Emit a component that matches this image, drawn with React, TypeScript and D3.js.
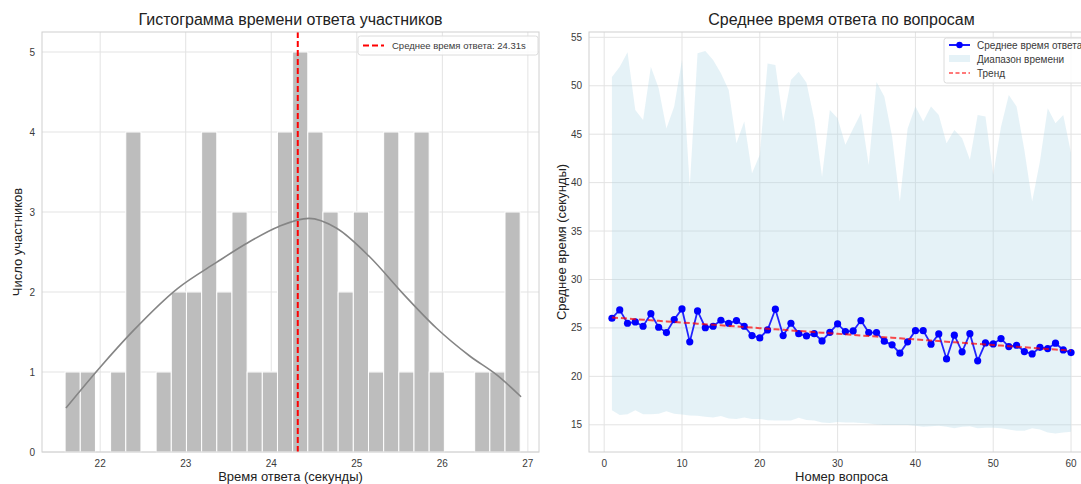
import React from "react";
import * as d3 from "d3";

// ---------- Data: histogram (left) ----------
const histCounts = [1, 1, 0, 1, 4, 0, 1, 2, 2, 4, 2, 3, 1, 1, 4, 5, 4, 3, 2, 3, 1, 4, 1, 4, 1, 0, 0, 1, 1, 3];
const histRange = [21.59, 26.91];
const meanTime = 24.31;
const kdeX = [21.6, 22.0, 22.39, 22.9, 23.36, 23.7, 24.09, 24.44, 24.76, 25.15, 25.54, 25.93, 26.32, 26.64, 26.92];
const kdeY = [0.55, 1.06, 1.52, 2.04, 2.37, 2.6, 2.82, 2.92, 2.8, 2.44, 1.98, 1.55, 1.2, 0.96, 0.69];
const histXTicks = [22, 23, 24, 25, 26, 27];
const histYTicks = [0, 1, 2, 3, 4, 5];

// ---------- Data: per question (right) ----------
const questionMeans = [
  26.0, 26.86, 25.48, 25.62, 25.17, 26.47, 25.07, 24.52, 25.86, 26.96,
  23.56, 26.75, 25.03, 25.17, 25.79, 25.48, 25.76, 25.17, 24.21, 23.97,
  24.79, 26.93, 24.21, 25.48, 24.41, 24.17, 24.41, 23.66, 24.55, 25.41,
  24.62, 24.69, 25.76, 24.52, 24.52, 23.63, 23.25, 22.39, 23.56, 24.72,
  24.72, 23.32, 24.38, 21.8, 24.25, 22.53, 24.41, 21.6, 23.45, 23.35,
  23.9, 23.07, 23.21, 22.56, 22.32, 23.0, 22.87, 23.42, 22.73, 22.45,
];
const questionMax = [
  50.9, 51.97, 53.45, 47.5, 46.47, 51.97, 49.74, 45.6, 47.85, 52.66,
  39.6, 53.35, 53.6, 52.66, 51.3, 49.57, 44.07, 46.3, 40.98, 42.87,
  52.3, 52.14, 46.3, 50.6, 51.45, 50.3, 46.5, 40.6, 47.5, 46.65,
  43.9, 45.6, 47.16, 41.83, 50.4, 48.88, 44.76, 38.05, 45.6, 47.85,
  46.3, 47.85, 46.99, 44.07, 45.44, 44.59, 42.35, 46.99, 46.82, 40.8,
  45.78, 49.05, 47.85, 43.38, 38.05, 42.17, 47.68, 46.13, 46.99, 43.04,
];
const questionMin = [
  16.5, 16.0, 16.1, 16.5, 16.1, 16.1, 16.15, 16.4, 16.15, 16.07,
  15.97, 15.93, 15.83, 15.76, 15.9, 15.66, 15.6, 15.76, 15.6, 15.6,
  15.48, 15.45, 15.45, 15.45, 15.72, 15.5, 15.45, 15.24, 15.18, 15.3,
  15.24, 15.24, 15.18, 15.14, 15.04, 14.97, 14.97, 14.97, 14.97, 14.9,
  14.8, 14.85, 14.9, 14.8, 14.63, 14.8, 14.85, 14.63, 14.7, 14.7,
  14.63, 14.52, 14.38, 14.38, 14.63, 14.52, 14.2, 14.1, 14.2, 14.27,
];
const lineXTicks = [0, 10, 20, 30, 40, 50, 60];
const lineYTicks = [15, 20, 25, 30, 35, 40, 45, 50, 55];

const FONT = "'Liberation Sans', Arial, 'DejaVu Sans', sans-serif";
const GRID = "#e3e3e3";
const SPINE = "#d0d0d0";
const TEXT = "#3a3a3a";

export default function App() {
  const W = 1081;
  const H = 484;

  // Left panel geometry
  const L = { x0: 42, x1: 539, y0: 32, y1: 452 };
  const hx = d3.scaleLinear().domain([21.32, 27.13]).range([L.x0, L.x1]);
  const hy = d3.scaleLinear().domain([0, 5.25]).range([L.y1, L.y0]);
  const binW = (histRange[1] - histRange[0]) / histCounts.length;
  const bins = histCounts.map((c, i) => ({
    a: histRange[0] + i * binW,
    b: histRange[0] + (i + 1) * binW,
    c,
  }));
  const kdePath = d3
    .line<number>()
    .x((_, i) => hx(kdeX[i]))
    .y((d) => hy(d))
    .curve(d3.curveMonotoneX)(kdeY);

  // Right panel geometry
  const R = { x0: 589, x1: 1094, y0: 32, y1: 452 };
  const qs = questionMeans.map((_, i) => i + 1);
  const lx = d3.scaleLinear().domain([-1.95, 62.95]).range([R.x0, R.x1]);
  const ly = d3.scaleLinear().domain([12.19, 55.55]).range([R.y1, R.y0]);
  const areaPath = d3
    .area<number>()
    .x((q) => lx(q))
    .y0((q) => ly(questionMin[q - 1]))
    .y1((q) => ly(questionMax[q - 1]))(qs);
  const meanPath = d3
    .line<number>()
    .x((q) => lx(q))
    .y((q) => ly(questionMeans[q - 1]))(qs);
  // linear regression trend
  const mx = d3.mean(qs) as number;
  const my = d3.mean(questionMeans) as number;
  const slope =
    d3.sum(qs, (q) => (q - mx) * (questionMeans[q - 1] - my)) /
    d3.sum(qs, (q) => (q - mx) * (q - mx));
  const icpt = my - slope * mx;
  const trendPath = d3
    .line<number>()
    .x((q) => lx(q))
    .y((q) => ly(icpt + slope * q))(qs);

  return (
    <svg
      width={W}
      height={H}
      style={{ position: "absolute", left: 0, top: 0, background: "#fff" }}
      fontFamily={FONT}
    >
      <defs>
        <clipPath id="clipR">
          <rect x={R.x0} y={R.y0} width={R.x1 - R.x0} height={R.y1 - R.y0} />
        </clipPath>
      </defs>

      {/* ---------------- LEFT PANEL ---------------- */}
      <rect x={L.x0} y={L.y0} width={L.x1 - L.x0} height={L.y1 - L.y0} fill="#fff" />
      {histXTicks.map((t) => (
        <line key={"hgx" + t} x1={hx(t)} x2={hx(t)} y1={L.y0} y2={L.y1} stroke={GRID} strokeWidth={1} />
      ))}
      {histYTicks.map((t) => (
        <line key={"hgy" + t} x1={L.x0} x2={L.x1} y1={hy(t)} y2={hy(t)} stroke={GRID} strokeWidth={1} />
      ))}
      {bins.map((b, i) =>
        b.c > 0 ? (
          <rect
            key={"bar" + i}
            x={hx(b.a)}
            y={hy(b.c)}
            width={hx(b.b) - hx(b.a)}
            height={hy(0) - hy(b.c)}
            fill="#bdbdbd"
            stroke="#fff"
            strokeWidth={1}
          />
        ) : null
      )}
      <path d={kdePath || ""} fill="none" stroke="#858585" strokeWidth={1.6} />
      <line
        x1={hx(meanTime)}
        x2={hx(meanTime)}
        y1={L.y0}
        y2={L.y1}
        stroke="#ff0000"
        strokeWidth={2}
        strokeDasharray="6,3"
      />
      <rect x={L.x0} y={L.y0} width={L.x1 - L.x0} height={L.y1 - L.y0} fill="none" stroke={SPINE} strokeWidth={1} />
      {histXTicks.map((t) => (
        <text key={"hxt" + t} x={hx(t)} y={L.y1 + 15} textAnchor="middle" fontSize={10} fill={TEXT}>
          {t}
        </text>
      ))}
      {histYTicks.map((t) => (
        <text key={"hyt" + t} x={L.x0 - 7} y={hy(t) + 3.5} textAnchor="end" fontSize={10} fill={TEXT}>
          {t}
        </text>
      ))}
      <text x={(L.x0 + L.x1) / 2} y={25} textAnchor="middle" fontSize={16} fill="#222">
        Гистограмма времени ответа участников
      </text>
      <text x={(L.x0 + L.x1) / 2} y={481} textAnchor="middle" fontSize={13} fill="#222">
        Время ответа (секунды)
      </text>
      <text
        transform={`translate(22,${(L.y0 + L.y1) / 2}) rotate(-90)`}
        textAnchor="middle"
        fontSize={13}
        fill="#222"
      >
        Число участников
      </text>
      {/* legend left */}
      <g>
        <rect x={358} y={36} width={180} height={19} rx={2.5} fill="#fff" fillOpacity={0.85} stroke="#dcdcdc" />
        <line x1={363} x2={384} y1={45.5} y2={45.5} stroke="#ff0000" strokeWidth={2} strokeDasharray="6,3" />
        <text x={392} y={49} fontSize={9.5} fill={TEXT}>
          Среднее время ответа: {meanTime.toFixed(2)}s
        </text>
      </g>

      {/* ---------------- RIGHT PANEL ---------------- */}
      <rect x={R.x0} y={R.y0} width={R.x1 - R.x0} height={R.y1 - R.y0} fill="#fff" />
      {lineXTicks.map((t) => (
        <line key={"lgx" + t} x1={lx(t)} x2={lx(t)} y1={R.y0} y2={R.y1} stroke={GRID} strokeWidth={1} />
      ))}
      {lineYTicks.map((t) => (
        <line key={"lgy" + t} x1={R.x0} x2={R.x1} y1={ly(t)} y2={ly(t)} stroke={GRID} strokeWidth={1} />
      ))}
      <g clipPath="url(#clipR)">
        <path d={areaPath || ""} fill="#add8e6" fillOpacity={0.32} />
        <path d={meanPath || ""} fill="none" stroke="#0000ff" strokeWidth={1.8} strokeOpacity={0.85} />
        {qs.map((q) => (
          <circle key={"pt" + q} cx={lx(q)} cy={ly(questionMeans[q - 1])} r={3.6} fill="#0000ff" />
        ))}
        <path d={trendPath || ""} fill="none" stroke="#ff0000" strokeOpacity={0.7} strokeWidth={2} strokeDasharray="6,3" />
      </g>
      <rect x={R.x0} y={R.y0} width={R.x1 - R.x0} height={R.y1 - R.y0} fill="none" stroke={SPINE} strokeWidth={1} />
      {lineXTicks.map((t) => (
        <text key={"lxt" + t} x={lx(t)} y={R.y1 + 15} textAnchor="middle" fontSize={10} fill={TEXT}>
          {t}
        </text>
      ))}
      {lineYTicks.map((t) => (
        <text key={"lyt" + t} x={R.x0 - 7} y={ly(t) + 3.5} textAnchor="end" fontSize={10} fill={TEXT}>
          {t}
        </text>
      ))}
      <text x={(R.x0 + R.x1) / 2} y={25} textAnchor="middle" fontSize={16} fill="#222">
        Среднее время ответа по вопросам
      </text>
      <text x={(R.x0 + R.x1) / 2} y={481} textAnchor="middle" fontSize={13} fill="#222">
        Номер вопроса
      </text>
      <text
        transform={`translate(566,${(R.y0 + R.y1) / 2}) rotate(-90)`}
        textAnchor="middle"
        fontSize={13}
        fill="#222"
      >
        Среднее время (секунды)
      </text>
      {/* legend right */}
      <g>
        <rect x={944} y={38} width={145} height={45} rx={2.5} fill="#fff" fillOpacity={0.85} stroke="#dcdcdc" />
        <line x1={949} x2={970} y1={45} y2={45} stroke="#0000ff" strokeWidth={1.8} />
        <circle cx={959.5} cy={45} r={3.2} fill="#0000ff" />
        <rect x={949} y={55} width={21} height={7} fill="#add8e6" fillOpacity={0.32} />
        <line x1={949} x2={970} y1={73} y2={73} stroke="#ff0000" strokeOpacity={0.7} strokeWidth={1.5} strokeDasharray="4,2.5" />
        <text x={977} y={48.5} fontSize={10} fill={TEXT}>
          Среднее время ответа
        </text>
        <text x={977} y={62.5} fontSize={10} fill={TEXT}>
          Диапазон времени
        </text>
        <text x={977} y={76.5} fontSize={10} fill={TEXT}>
          Тренд
        </text>
      </g>
    </svg>
  );
}
